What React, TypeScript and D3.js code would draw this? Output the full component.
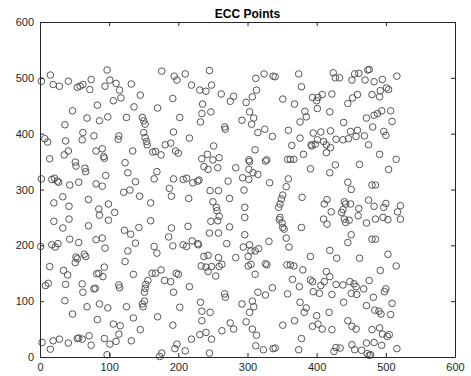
import React, { useEffect, useRef } from 'react';
import * as d3 from 'd3';

// points, one list per region of the plot
const topLeft = [[2,494],[15,505],[19,488],[28,485],[41,494],[54,483],[58,485],[62,488],[72,479],[74,497],[94,485],[97,514],[101,496],[110,490],[115,478],[117,464],[106,459],[83,451],[47,441],[68,428],[86,423],[98,430],[36,416],[62,402],[78,396],[7,391],[11,385],[37,387],[61,389],[114,396],[113,390],[81,369],[90,373],[92,359],[41,369],[35,362]];
const topMidLeft = [[176,512],[194,503],[198,496],[210,507],[245,513],[219,487],[231,478],[240,476],[248,487],[132,489],[145,469],[192,463],[136,448],[170,446],[235,453],[234,436],[247,439],[232,421],[125,429],[148,429],[150,423],[152,417],[202,429],[193,403],[150,402],[152,393],[154,386],[155,380],[216,392],[181,380],[189,383],[196,369],[200,365],[134,369],[163,367],[167,368],[175,362],[251,378],[242,363]];
const topMidRight = [[324,507],[312,499],[337,503],[340,502],[374,507],[378,484],[262,471],[280,467],[275,458],[313,478],[307,466],[298,456],[351,462],[368,453],[394,465],[383,440],[385,430],[376,421],[303,439],[309,428],[292,424],[306,417],[267,412],[268,408],[315,402],[325,408],[336,395],[359,406],[376,392],[395,401],[364,379],[392,380],[393,378],[311,371],[381,363],[259,357]];
const topRight = [[424,509],[427,500],[433,500],[455,507],[461,508],[474,514],[476,515],[451,496],[470,496],[483,493],[495,497],[516,503],[501,482],[504,479],[492,477],[480,470],[491,466],[459,470],[452,464],[445,454],[422,471],[408,470],[402,465],[400,459],[401,445],[419,439],[472,428],[483,433],[488,436],[494,441],[507,441],[509,422],[439,420],[481,412],[497,404],[500,397],[420,405],[406,403],[449,404],[459,406],[446,391],[457,395],[469,396],[428,390],[438,389],[410,386],[414,380],[420,375],[401,389],[398,381],[475,380],[414,366],[491,363]];
const midLeft = [[14,355],[51,349],[52,342],[65,338],[66,332],[93,356],[2,319],[17,318],[21,320],[25,315],[27,313],[43,308],[56,313],[81,310],[90,306],[95,325],[20,276],[33,287],[42,270],[70,282],[85,265],[86,254],[99,274],[108,259],[20,243],[42,247],[33,231],[70,235],[99,245],[1,198],[17,201],[22,197],[26,203],[43,211],[56,205],[81,210],[90,213],[94,195],[52,179],[54,176],[64,184],[66,180]];
const midMidLeft = [[123,348],[127,330],[138,314],[121,295],[130,299],[169,332],[165,319],[193,319],[207,318],[212,320],[221,312],[228,315],[230,317],[187,302],[190,288],[144,288],[160,276],[215,284],[234,355],[237,341],[243,336],[250,353],[257,339],[246,298],[258,298],[250,278],[255,268],[256,262],[259,252],[247,243],[257,244],[122,227],[131,220],[143,232],[160,244],[190,231],[186,215],[214,234],[138,204],[165,198],[169,186],[192,199],[207,201],[212,198],[220,208],[228,203],[229,201],[245,222],[258,222],[127,190],[237,180],[243,182],[258,178]];
const midMidRight = [[302,353],[303,350],[326,351],[328,353],[358,354],[362,354],[367,354],[391,337],[283,339],[302,336],[308,330],[315,327],[293,321],[302,318],[272,315],[332,312],[359,319],[356,305],[295,299],[274,284],[351,290],[349,283],[347,274],[345,268],[347,250],[346,246],[350,240],[351,232],[353,229],[379,286],[296,268],[296,250],[274,233],[378,232],[296,219],[356,213],[270,203],[294,197],[303,201],[305,190],[311,190],[316,194],[331,207],[360,197],[283,178],[301,180],[391,180]];
const midRight = [[427,344],[419,330],[462,345],[515,354],[504,336],[445,313],[450,300],[480,308],[485,308],[415,282],[411,274],[421,260],[440,278],[442,274],[438,264],[436,259],[449,274],[461,266],[460,253],[475,281],[483,270],[500,275],[497,268],[521,271],[517,260],[521,247],[410,247],[415,238],[440,247],[442,241],[447,245],[472,240],[485,247],[496,250],[503,246],[450,219],[445,205],[480,211],[485,211],[419,191],[429,177],[462,177],[503,184]];
const lowLeft = [[14,162],[51,169],[34,155],[40,147],[93,161],[82,149],[85,150],[91,144],[8,128],[12,132],[37,130],[61,131],[62,116],[78,122],[80,123],[114,129],[115,124],[36,101],[47,77],[68,90],[86,95],[98,88],[83,67],[106,59],[116,56],[114,41],[3,26],[19,29],[28,32],[15,14],[41,25],[54,33],[56,34],[61,32],[71,38],[74,21],[93,33],[101,23],[110,28],[97,4]];
const lowMidLeft = [[123,171],[135,148],[162,150],[167,150],[175,156],[197,150],[200,148],[180,137],[189,135],[156,137],[153,130],[152,123],[151,116],[216,126],[193,116],[151,100],[148,95],[149,90],[125,90],[202,89],[170,72],[135,70],[192,57],[145,49],[132,29],[232,98],[234,82],[246,80],[234,65],[219,32],[231,40],[240,44],[248,32],[198,23],[195,15],[210,11],[176,7],[173,1],[245,7],[233,163],[240,161],[248,162],[254,145],[243,153]];
const lowMidRight = [[259,162],[263,166],[301,163],[305,166],[326,167],[328,165],[357,165],[362,165],[367,163],[380,156],[311,148],[365,139],[375,126],[391,138],[394,135],[395,117],[358,113],[336,124],[315,116],[326,111],[267,113],[268,107],[292,95],[307,100],[309,90],[303,80],[376,98],[385,88],[382,80],[368,65],[351,57],[394,55],[298,63],[275,61],[280,50],[263,47],[307,50],[313,39],[378,33],[312,20],[323,13],[337,15],[340,16],[374,13]];
const lowRight = [[515,163],[492,155],[414,153],[419,144],[411,135],[406,128],[404,114],[428,130],[438,129],[448,135],[454,131],[457,126],[476,137],[468,122],[450,114],[458,112],[422,112],[500,122],[498,117],[509,96],[439,98],[472,92],[482,107],[484,84],[490,82],[493,77],[507,76],[418,80],[400,74],[402,59],[408,50],[445,65],[451,55],[457,50],[422,49],[480,49],[491,52],[495,41],[502,37],[505,40],[428,17],[434,16],[425,10],[451,22],[455,13],[465,12],[472,25],[473,6],[476,3],[478,4],[483,26],[494,21],[516,15]];

const xTicks = [0, 100, 200, 300, 400, 500, 600];
const yTicks = [0, 100, 200, 300, 400, 500, 600];
const title = 'ECC Points';

const App = () => {
  const svgRef = useRef(null);

  useEffect(() => {
    const W = 471;
    const H = 376;
    const margin = { top: 22, right: 16, bottom: 19, left: 40 };
    const font = 'Liberation Sans, Arial, Helvetica, sans-serif';
    const axisColor = '#262626';

    const svg = d3.select(svgRef.current);
    svg.selectAll('*').remove();
    svg.attr('width', W).attr('height', H);

    const x = d3.scaleLinear().domain([0, 600]).range([margin.left, W - margin.right]);
    const y = d3.scaleLinear().domain([0, 600]).range([H - margin.bottom, margin.top]);

    const points = [
      ...topLeft, ...topMidLeft, ...topMidRight, ...topRight,
      ...midLeft, ...midMidLeft, ...midMidRight, ...midRight,
      ...lowLeft, ...lowMidLeft, ...lowMidRight, ...lowRight
    ];

    svg
      .append('g')
      .selectAll('circle')
      .data(points)
      .enter()
      .append('circle')
      .attr('cx', (d) => x(d[0]))
      .attr('cy', (d) => y(d[1]))
      .attr('r', 3.3)
      .attr('fill', 'none')
      .attr('stroke', '#555')
      .attr('stroke-width', 1);

    const styleAxis = (g, hideText) => {
      g.select('.domain').attr('stroke', axisColor);
      g.selectAll('line').attr('stroke', axisColor);
      g.selectAll('text')
        .attr('fill', axisColor)
        .style('font-family', font)
        .style('font-size', '11px');
      if (hideText) g.selectAll('text').remove();
    };

    svg
      .append('g')
      .attr('transform', `translate(0,${H - margin.bottom})`)
      .call(d3.axisBottom(x).tickValues(xTicks).tickSizeInner(-4).tickSizeOuter(0).tickPadding(6))
      .call((g) => styleAxis(g, false));

    svg
      .append('g')
      .attr('transform', `translate(${margin.left},0)`)
      .call(d3.axisLeft(y).tickValues(yTicks).tickSizeInner(-4).tickSizeOuter(0).tickPadding(6))
      .call((g) => styleAxis(g, false));

    svg
      .append('g')
      .attr('transform', `translate(0,${margin.top})`)
      .call(d3.axisTop(x).tickValues(xTicks).tickSizeInner(-4).tickSizeOuter(0))
      .call((g) => styleAxis(g, true));

    svg
      .append('g')
      .attr('transform', `translate(${W - margin.right},0)`)
      .call(d3.axisRight(y).tickValues(yTicks).tickSizeInner(-4).tickSizeOuter(0))
      .call((g) => styleAxis(g, true));

    svg
      .append('text')
      .attr('x', (margin.left + W - margin.right) / 2)
      .attr('y', margin.top - 4)
      .attr('text-anchor', 'middle')
      .attr('fill', '#000')
      .style('font-family', font)
      .style('font-size', '12px')
      .style('font-weight', 'bold')
      .text(title);
  }, []);

  return (
    <div style={{ position: 'absolute', left: 0, top: 0, background: '#fff' }}>
      <svg ref={svgRef}></svg>
    </div>
  );
};

export default App;
